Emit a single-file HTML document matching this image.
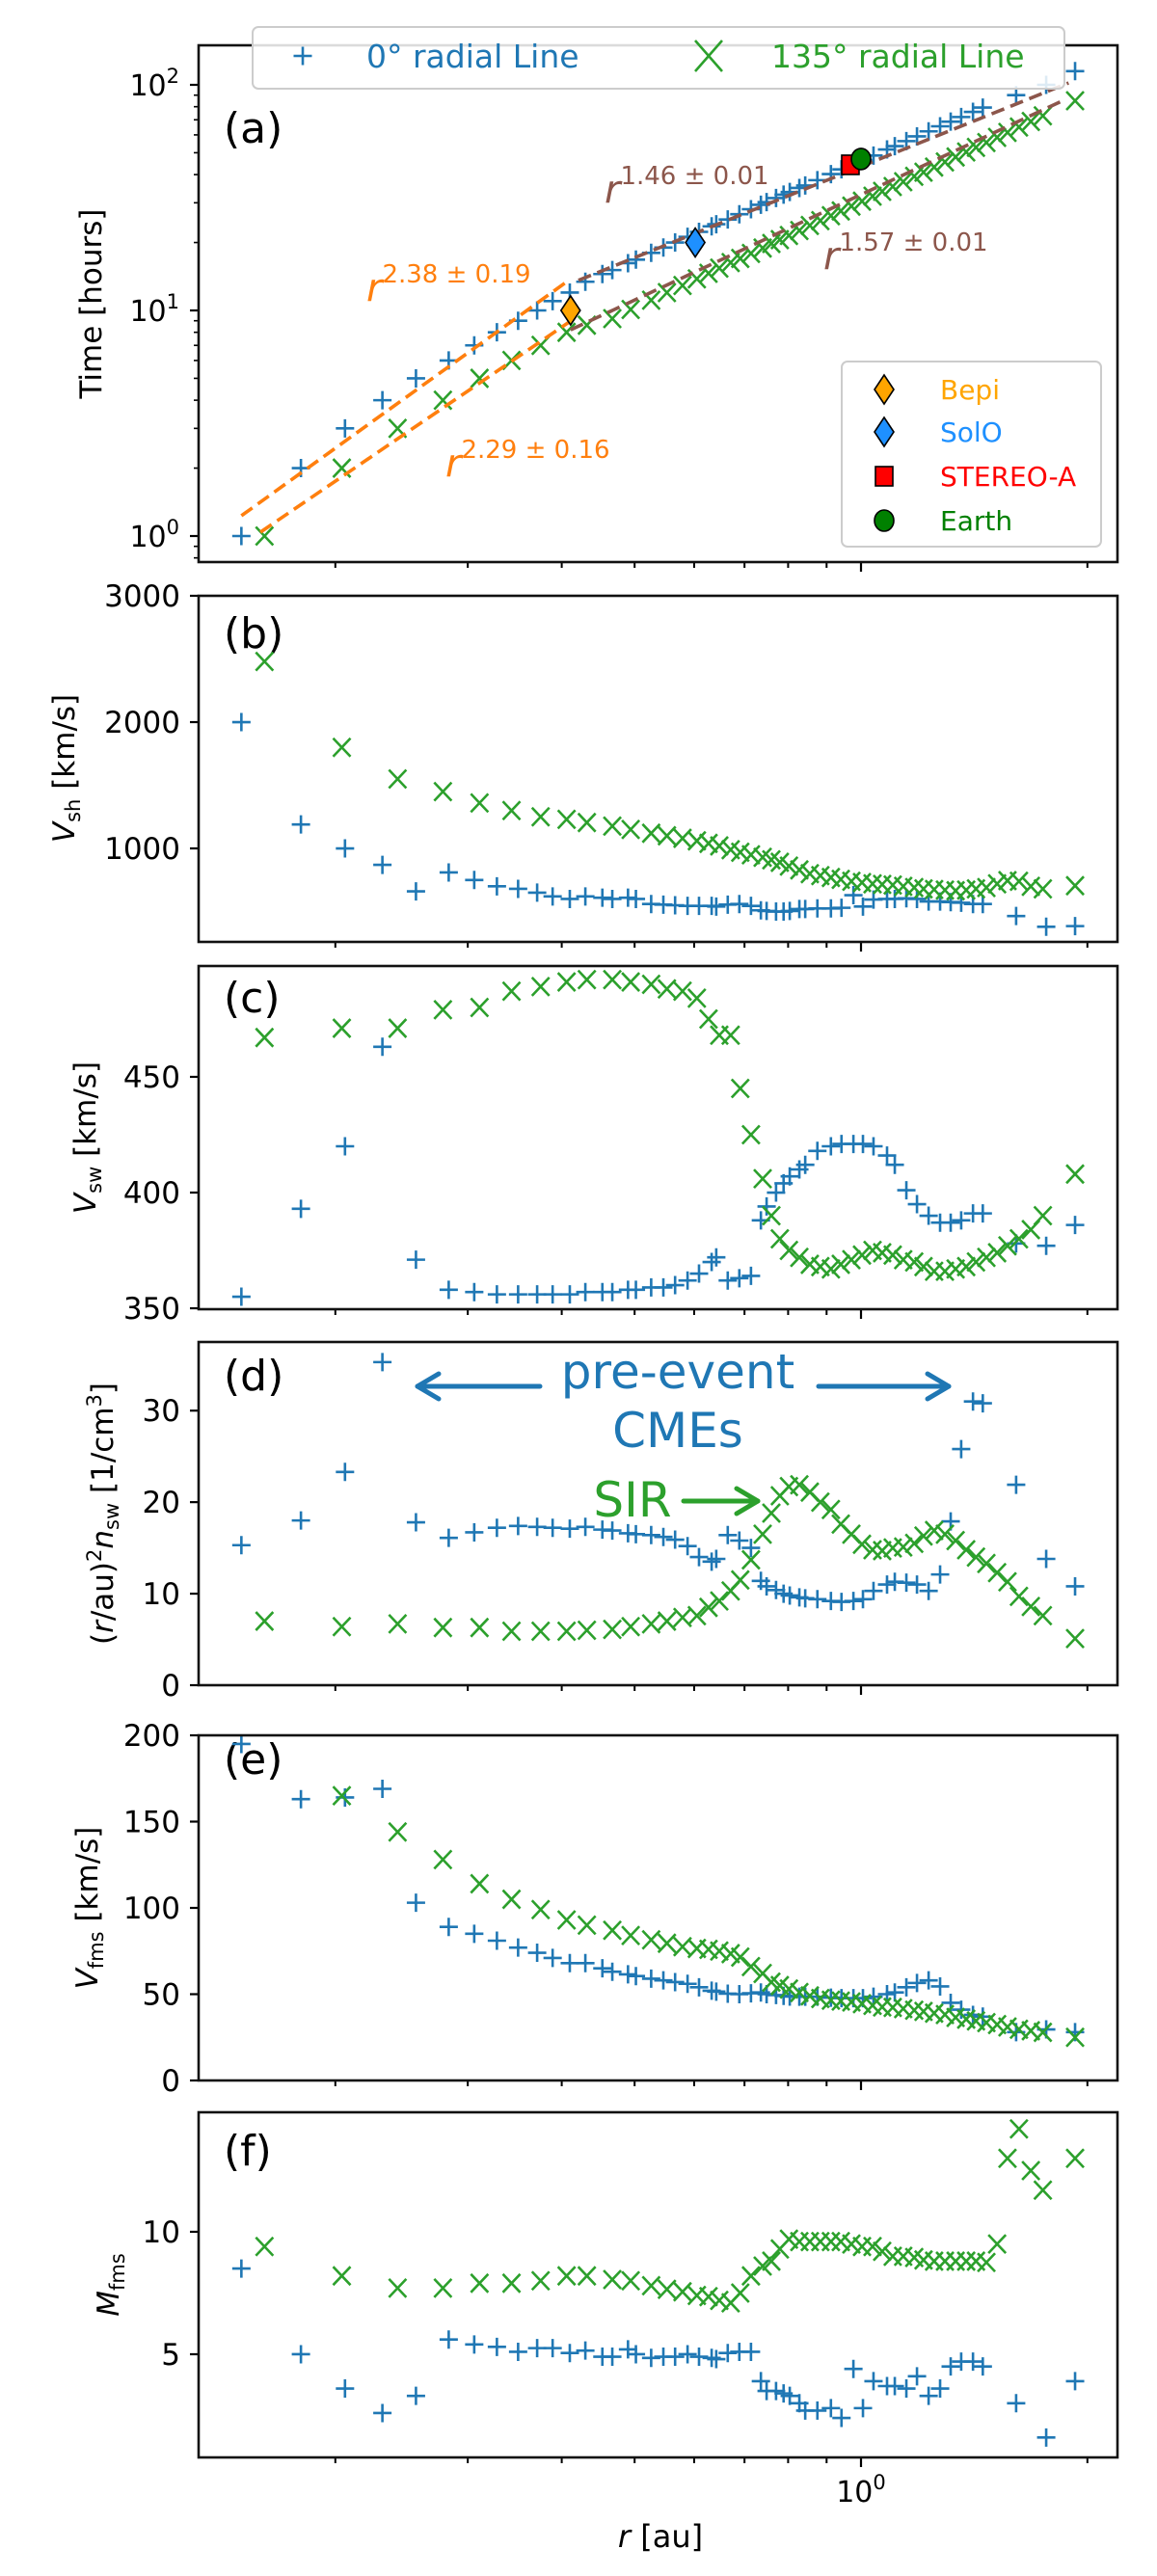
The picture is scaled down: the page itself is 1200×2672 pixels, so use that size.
<!DOCTYPE html>
<html><head><meta charset="utf-8"><title>Shock propagation figure</title>
<style>
html,body{margin:0;padding:0;background:#fff;}
svg{display:block;font-family:"DejaVu Sans","Liberation Sans",sans-serif;}
</style></head>
<body>
<svg id="fig" xmlns="http://www.w3.org/2000/svg" width="1200" height="2672" viewBox="0 0 1200 2672"></svg>
<script>
// ---------- data ----------
const rBlue=[0.150,0.180,0.206,0.231,0.256,0.283,0.306,0.328,0.350,0.371,0.389,0.410,0.430,0.453,0.467,0.490,0.502,0.526,0.546,0.566,0.588,0.609,0.633,0.642,0.665,0.689,0.714,0.736,0.749,0.771,0.789,0.804,0.828,0.843,0.875,0.912,0.942,0.977,1.006,1.039,1.083,1.109,1.149,1.187,1.230,1.274,1.316,1.359,1.409,1.452,1.608,1.763,1.926];
const rGreen=[0.161,0.204,0.242,0.278,0.311,0.343,0.375,0.406,0.432,0.467,0.494,0.526,0.552,0.579,0.605,0.627,0.648,0.671,0.691,0.714,0.740,0.760,0.780,0.802,0.828,0.855,0.883,0.912,0.940,0.971,1.003,1.036,1.067,1.102,1.138,1.177,1.211,1.251,1.293,1.336,1.380,1.422,1.468,1.517,1.566,1.622,1.682,1.745,1.926];
const timeBlue=[1,2,3,4,5,6,7,8,9,10,11,12,13.4,14.5,15.1,16.2,16.8,18.0,19.0,20.0,21.2,22.3,23.6,24.1,25.3,26.7,28.1,29.4,30.2,31.5,32.6,33.5,34.9,35.8,37.8,40.2,42.2,44.5,46.4,48.6,51.7,53.5,56.3,59.1,62.2,65.5,68.7,72.0,75.9,79.3,90,100,115];
const timeGreen=[1,2,3,4,5,6,7,8,8.6,9.2,10.1,11.1,12.0,12.9,13.8,14.6,15.4,16.3,17.0,17.9,18.9,19.8,20.6,21.5,22.6,23.8,25.0,26.3,27.6,29.0,30.5,32.1,33.7,35.4,37.2,39.3,41.0,43.2,45.5,47.9,50.4,52.8,55.5,58.5,61.5,65.0,68.8,72.9,85];
const vshBlue=[2000,1190,1000,870,660,810,750,700,680,650,620,600,620,610,600,610,600,560,555,550,545,545,545,540,555,560,545,510,505,500,500,505,520,520,525,525,530,630,540,595,600,600,605,600,580,580,575,570,560,560,465,380,385];
const vshGreen=[2480,1800,1550,1450,1360,1300,1250,1230,1205,1177,1150,1120,1100,1080,1060,1040,1020,990,970,950,930,910,890,860,830,800,785,770,755,740,730,720,715,710,700,690,680,675,670,665,670,680,690,720,745,740,700,680,705];
const vswBlue=[355,393,420,463,371,358,357,356,356,356,356,356,357,357,357,358,358,359,359,360,362,365,370,372,362,363,364,388,394,400,404,407,410,412,418,420,421,421,421,420,416,412,401,395,390,387,387,388,391,391,378,377,386];
const vswGreen=[467,471,471,479,480,487,489,491,492,492,491,490,488,487,484,475,468,468,445,425,406,390,380,375,372,369,368,367,369,371,373,375,374,373,371,370,368,366,366,367,368,370,372,374,377,380,384,390,408];
const densBlue=[15.3,18,23.3,35.3,17.8,16.1,16.7,17.2,17.4,17.3,17.2,17.1,17.3,17.0,16.9,16.6,16.5,16.4,16.2,15.9,15.2,14.0,13.5,13.8,16.4,15.8,15.0,11.4,10.8,10.4,10.0,9.8,9.6,9.5,9.4,9.2,9.1,9.2,9.4,10.3,11.0,11.3,11.2,11.0,10.3,12.1,17.9,25.8,31.0,30.8,21.9,13.8,10.8];
const densGreen=[7.0,6.4,6.7,6.3,6.3,5.9,5.9,5.9,6.0,6.1,6.4,6.7,7.0,7.4,7.6,8.5,9.2,10.3,11.5,13.7,16.5,18.8,20.7,21.7,21.9,21.1,20.0,19.2,17.6,16.5,15.4,14.8,14.7,15.0,15.1,15.5,16.3,16.9,16.5,15.8,14.8,14.0,13.3,12.3,11.3,9.7,8.6,7.6,5.1];
const vfmsBlue=[195,163,164,169,103,89,85,81,77,74,71,68,68,65,63,61.5,60.5,59,58,57,56,54,52,51.5,50.3,50,50.5,51,50,49.5,49,48.6,48.5,48.5,48.5,48,47.7,47.7,47.7,48.5,50,51,54,56.5,58,54.5,45,41,38,37,28,29.6,28];
const vfmsGreen=[215,165,144,128,114,105,99,93,90,87,84,81.5,79.5,77.5,76.5,76,75,73.5,71.5,66,62,57,55,53,51,49,47.5,46.5,46,45.5,44.5,43.5,42.6,42.3,41.6,40.7,40,39,38.2,36.5,35.5,34.5,33.5,32.4,31,29.7,28.8,27.9,25];
const machBlue=[8.5,5.0,3.6,2.6,3.3,5.6,5.4,5.3,5.1,5.25,5.25,5.05,5.15,4.9,4.9,5.2,5.0,4.85,4.9,4.9,5.0,4.9,4.85,4.8,5.05,5.1,5.1,3.9,3.5,3.5,3.4,3.3,3.0,2.7,2.7,2.8,2.4,4.4,2.8,3.9,3.7,3.7,3.6,4.1,3.3,3.6,4.5,4.7,4.7,4.5,3.0,1.6,3.9];
const machGreen=[9.4,8.2,7.7,7.7,7.9,7.9,8.0,8.2,8.2,8.05,8.0,7.8,7.65,7.55,7.4,7.35,7.2,7.1,7.5,8.2,8.6,8.8,9.3,9.7,9.6,9.6,9.6,9.6,9.6,9.5,9.4,9.4,9.2,9.0,9.0,8.95,8.85,8.8,8.8,8.8,8.8,8.8,8.75,9.5,13.0,14.2,12.5,11.7,13.0];
// power-law fit segments: [blue early, green early, blue late, green late]
const fitR0=[0.150,0.159,0.421,0.411];
const fitR1=[0.410,0.411,1.888,1.840];
const fitT0=[1.23,1.04,13.6,8.2];
const fitT1=[13.7,8.97,102,84];
const fitLabels=["2.38 ± 0.19","2.29 ± 0.16","1.46 ± 0.01","1.57 ± 0.01"];
// spacecraft
const scNames=["Bepi","SolO","STEREO-A","Earth"];
const scR=[0.411,0.602,0.968,1.0];
const scT=[10,20,44.2,46.9];

// ---------- helpers ----------
const NS="http://www.w3.org/2000/svg";
const svg=document.getElementById('fig');
const BLUE="#1f77b4",GREEN="#2ca02c",ORANGE="#ff7f0e",BROWN="#8c564b";
const L=206,R=1159;
function xPix(r){return 893+780*Math.log10(r);}
function el(tag,attrs,parent){const e=document.createElementNS(NS,tag);for(const k in attrs)e.setAttribute(k,attrs[k]);(parent||svg).appendChild(e);return e;}
function linY(p){return v=>p.bottom+(v-p.d0)/(p.d1-p.d0)*(p.top-p.bottom);}

const panels=[
 {id:'a',top:47,bottom:583,log:true,lab:148},
 {id:'b',top:618,bottom:977,d0:260,d1:3000,ticks:[1000,2000,3000],lab:672},
 {id:'c',top:1002,bottom:1358,d0:349.6,d1:497.9,ticks:[350,400,450],lab:1050},
 {id:'d',top:1392,bottom:1748,d0:0,d1:37.5,ticks:[0,10,20,30],lab:1442},
 {id:'e',top:1800,bottom:2158,d0:0,d1:200,ticks:[0,50,100,150,200],lab:1840},
 {id:'f',top:2191,bottom:2549,d0:0.787,d1:14.88,ticks:[5,10],lab:2246}
];
panels[0].y=t=>556-234*Math.log10(t);
for(let i=1;i<panels.length;i++)panels[i].y=linY(panels[i]);

const defs=el('defs',{});
panels.forEach(p=>{const cp=el('clipPath',{id:'clip-'+p.id},defs);el('rect',{x:L,y:p.top,width:R-L,height:p.bottom-p.top},cp);});

function plus(g,x,y,c){const e=el('path',{d:`M${x-9.5},${y}H${x+9.5}M${x},${y-9.5}V${y+9.5}`,stroke:c,'stroke-width':2.6,fill:'none'},g);return e;}
function cross(g,x,y,c){const e=el('path',{d:`M${x-9},${y-9.5}L${x+9},${y+9.5}M${x-9},${y+9.5}L${x+9},${y-9.5}`,stroke:c,'stroke-width':2.6,fill:'none'},g);return e;}

function drawSeries(p,rs,vs,kind,color,name){
  const g=el('g',{'clip-path':`url(#clip-${p.id})`});
  
  
  for(let i=0;i<rs.length;i++){
    const m=(kind==='plus'?plus:cross)(g,xPix(rs[i]),p.y(vs[i]),color);
    
    
  }
}

const xMinor=[0.2,0.3,0.4,0.5,0.6,0.7,0.8,0.9,2];
panels.forEach(p=>{
  const g=el('g',{});
  
  
  xMinor.forEach(r=>{const t=el('line',{x1:xPix(r),x2:xPix(r),y1:p.bottom,y2:p.bottom+6,stroke:'#000','stroke-width':2},g);});
  const mj=el('line',{x1:xPix(1),x2:xPix(1),y1:p.bottom,y2:p.bottom+10,stroke:'#000','stroke-width':2.2},g);
  
  if(p.log){
    for(let dec=-1;dec<=2;dec++)for(let k=1;k<10;k++){
      const v=k*Math.pow(10,dec);const y=p.y(v);if(y<p.top||y>p.bottom)continue;
      const major=(k===1);
      const t=el('line',{x1:L-(major?9:5),x2:L,y1:y,y2:y,stroke:'#000','stroke-width':major?2.2:1.6},g);
      
      if(major){
        const tx=el('text',{x:186,y:y+11,'text-anchor':'end','font-size':30,fill:'#000'},g);
        
        tx.textContent='10';
        const s=el('tspan',{dy:-13,'font-size':21},tx);s.textContent=String(dec);
      }
    }
  } else {
    p.ticks.forEach(v=>{const y=p.y(v);
      const t=el('line',{x1:L-9,x2:L,y1:y,y2:y,stroke:'#000','stroke-width':2.2},g);
      
      const tx=el('text',{x:187,y:y+11,'text-anchor':'end','font-size':31,fill:'#000'},g);
      
      tx.textContent=String(v);});
  }
  const pl=el('text',{x:232,y:p.lab,'font-size':44,fill:'#000'},g);
  
  pl.textContent='('+p.id+')';
});

// ---------- panel a ----------
const pa=panels[0];
drawSeries(pa,rBlue,timeBlue,'plus',BLUE,'time-0deg-series');
drawSeries(pa,rGreen,timeGreen,'cross',GREEN,'time-135deg-series');
const fitColors=[ORANGE,ORANGE,BROWN,BROWN];
for(let i=0;i<fitR0.length;i++){
  const ln=el('line',{x1:xPix(fitR0[i]),y1:pa.y(fitT0[i]),x2:xPix(fitR1[i]),y2:pa.y(fitT1[i]),stroke:fitColors[i],'stroke-width':3.6,'stroke-dasharray':'14 7','clip-path':'url(#clip-a)'});
  
  
}
const fitLabPos=[[380,312],[462,494],[627,210],[854,279]];
for(let i=0;i<4;i++){
  const t=el('text',{x:fitLabPos[i][0],y:fitLabPos[i][1],'font-size':40,fill:fitColors[i]});
  
  
  const r=el('tspan',{'font-style':'italic'},t);r.textContent='r';
  const s=el('tspan',{dy:-19,'font-size':26},t);s.textContent=fitLabels[i];
}
const scFill=['#ffa500','#1e90ff','#ff0000','#008000'];
function scMarker(i,x,y,parent){
  let e;
  if(i<2) e=el('path',{d:`M${x},${y-15}L${x+10},${y}L${x},${y+15}L${x-10},${y}Z`,fill:scFill[i],stroke:'#000','stroke-width':1.6},parent);
  else if(i===2) e=el('rect',{x:x-9,y:y-10,width:18,height:20,fill:scFill[i],stroke:'#000','stroke-width':1.6},parent);
  else e=el('ellipse',{cx:x,cy:y,rx:10,ry:11,fill:scFill[i],stroke:'#000','stroke-width':1.6},parent);
  return e;
}
for(let i=0;i<scR.length;i++){
  const m=scMarker(i,xPix(scR[i]),pa.y(scT[i]));
  
  
}
const lg=el('g',{});


el('rect',{x:873,y:375,width:269,height:192,rx:6,fill:'#fff','fill-opacity':0.85,stroke:'#ccc','stroke-width':2},lg);
const legY=[404,448,494,540];
for(let i=0;i<4;i++){
  const m=scMarker(i,917,legY[i],lg);
  
  
  const t=el('text',{x:975,y:legY[i]+10,'font-size':28,fill:scFill[i]},lg);
  
  
  t.textContent=scNames[i];
}

// ---------- other panels ----------
drawSeries(panels[1],rBlue,vshBlue,'plus',BLUE,'vsh-0deg-series');
drawSeries(panels[1],rGreen,vshGreen,'cross',GREEN,'vsh-135deg-series');
drawSeries(panels[2],rBlue,vswBlue,'plus',BLUE,'vsw-0deg-series');
drawSeries(panels[2],rGreen,vswGreen,'cross',GREEN,'vsw-135deg-series');
drawSeries(panels[3],rBlue,densBlue,'plus',BLUE,'density-0deg-series');
drawSeries(panels[3],rGreen,densGreen,'cross',GREEN,'density-135deg-series');
drawSeries(panels[4],rBlue,vfmsBlue,'plus',BLUE,'vfms-0deg-series');
drawSeries(panels[4],rGreen,vfmsGreen,'cross',GREEN,'vfms-135deg-series');
drawSeries(panels[5],rBlue,machBlue,'plus',BLUE,'mach-0deg-series');
drawSeries(panels[5],rGreen,machGreen,'cross',GREEN,'mach-135deg-series');

panels.forEach(p=>{
  const f=el('rect',{x:L,y:p.top,width:R-L,height:p.bottom-p.top,fill:'none',stroke:'#111','stroke-width':2.6});
  
  
});

function arrow(x1,y,x2,color,name,w){
  const g=el('g',{});
  
  
  el('line',{x1:x1,y1:y,x2:x2,y2:y,stroke:color,'stroke-width':w,'stroke-linecap':'round'},g);
  const d=x2>x1?-1:1;
  el('path',{d:`M${x2+d*22},${y-13}L${x2},${y}L${x2+d*22},${y+13}`,stroke:color,'stroke-width':w,fill:'none','stroke-linecap':'round','stroke-linejoin':'round'},g);
}
arrow(560,1438,433,BLUE,'pre-event-left-arrow',5);
arrow(849,1438,984,BLUE,'pre-event-right-arrow',5);
arrow(709,1557,786,GREEN,'sir-arrow',5);
let t1=el('text',{x:703,y:1440,'text-anchor':'middle','font-size':50,fill:BLUE});
t1.textContent='pre-event';
let t2=el('text',{x:703,y:1501,'text-anchor':'middle','font-size':50,fill:BLUE});
t2.textContent='CMEs';
let t3=el('text',{x:656,y:1573,'text-anchor':'middle','font-size':50,fill:GREEN});
t3.textContent='SIR';

const tl=el('g',{});


el('rect',{x:262,y:28,width:842,height:64,rx:6,fill:'#fff','fill-opacity':0.85,stroke:'#ccc','stroke-width':2},tl);
const lp=plus(tl,314,58,BLUE);
let lt1=el('text',{x:380,y:70,'font-size':33,fill:BLUE},tl);
lt1.textContent='0° radial Line';
const lx=el('path',{d:'M721,42L749,74M721,74L749,42',stroke:GREEN,'stroke-width':2.6,fill:'none'},tl);

let lt2=el('text',{x:800,y:70,'font-size':33,fill:GREEN},tl);
lt2.textContent='135° radial Line';

function ytitle(cx,cy,name,parts){
  const t=el('text',{x:cx+11,y:cy,'text-anchor':'middle','font-size':31,fill:'#000',transform:`rotate(-90 ${cx+11} ${cy})`});
  
  
  parts.forEach(pt=>{const s=el('tspan',pt.a||{},t);s.textContent=pt.t;});
}
ytitle(94,315,'y-axis-title-time',[{t:'Time [hours]'}]);
ytitle(66,797,'y-axis-title-vsh',[{t:'V',a:{'font-style':'italic'}},{t:'sh',a:{'font-size':21,dy:6}},{t:' [km/s]',a:{dy:-6}}]);
ytitle(88,1180,'y-axis-title-vsw',[{t:'V',a:{'font-style':'italic'}},{t:'sw',a:{'font-size':21,dy:6}},{t:' [km/s]',a:{dy:-6}}]);
ytitle(106,1570,'y-axis-title-density',[{t:'('},{t:'r',a:{'font-style':'italic'}},{t:'/au)'},{t:'2',a:{'font-size':21,dy:-12}},{t:'n',a:{'font-style':'italic',dy:12}},{t:'sw',a:{'font-size':21,dy:6}},{t:' [1/cm',a:{dy:-6}},{t:'3',a:{'font-size':21,dy:-12}},{t:']',a:{dy:12}}]);
ytitle(90,1979,'y-axis-title-vfms',[{t:'V',a:{'font-style':'italic'}},{t:'fms',a:{'font-size':21,dy:6}},{t:' [km/s]',a:{dy:-6}}]);
ytitle(112,2370,'y-axis-title-mach',[{t:'M',a:{'font-style':'italic'}},{t:'fms',a:{'font-size':21,dy:6}}]);

const xl=el('text',{x:893,y:2595,'text-anchor':'middle','font-size':30,fill:'#000'});

xl.textContent='10';
const xs=el('tspan',{dy:-13,'font-size':21},xl);xs.textContent='0';
const xt=el('text',{x:685,y:2642,'text-anchor':'middle','font-size':32,fill:'#000'});

const xr=el('tspan',{'font-style':'italic'},xt);xr.textContent='r';
const xa=el('tspan',{},xt);xa.textContent=' [au]';
</script>
</body></html>
